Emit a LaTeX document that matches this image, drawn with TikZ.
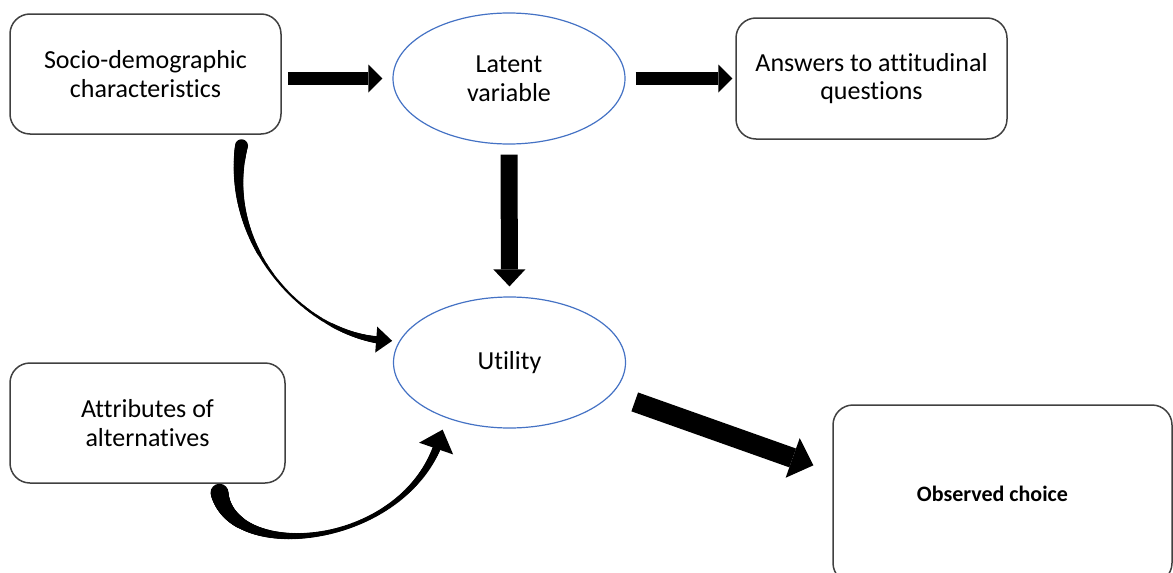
\documentclass[tikz,border=0pt]{standalone}
\usepackage{fontspec}
\setmainfont{Carlito}[Ligatures={NoCommon,NoContextual}]
\usetikzlibrary{shapes.geometric,arrows.meta}
\definecolor{ovalblue}{HTML}{4472C4}
\definecolor{boxline}{HTML}{404040}

\begin{document}
\begin{tikzpicture}[x=0.5pt,y=-0.5pt,
    every node/.style={font=\fontsize{13}{14.3}\selectfont, align=center, inner sep=0pt},
    box/.style={draw=boxline, line width=0.75pt, rounded corners=10pt, minimum height=60pt},
    oval/.style={ellipse, draw=ovalblue, line width=0.6pt, minimum width=116pt, minimum height=65.5pt},
    block/.style n args={3}{line width=#1, -{Triangle[width=#2,length=#3,line width=0pt]}},
    curved/.style n args={2}{line width=2pt, -{Triangle[width=#1,length=#2,line width=0pt]}},
    blob/.style={circle, fill, draw=none, inner sep=0pt, minimum size=#1}]
  \useasboundingbox (0,0) rectangle (1173,573);
  \node[box, minimum width=135.5pt] (soc) at (145.5,74) {Socio-demographic\\characteristics};
  \node[oval] (lat) at (509,78.5) {Latent\\variable};
  \node[box, minimum width=135.5pt, minimum height=60.5pt] (ans) at (871.5,78.5) {Answers to attitudinal\\questions};
  \node[oval] (util) at (509.5,362.5) {Utility};
  \node[box, minimum width=137.5pt] (attr) at (147.5,423) {Attributes of\\alternatives};
  \node[box, minimum width=169.5pt, minimum height=89pt, font=\fontsize{11}{13}\selectfont\bfseries] (obs) at (1002.5,494) {Observed choice\hspace*{10pt}};
  \coordinate (sbeg) at ([xshift=48pt,yshift=-5.5pt]soc.south);
  \coordinate (send) at ([xshift=-3pt,yshift=1pt]util.170);
  \coordinate (abeg) at ([xshift=36pt,yshift=-4.5pt]attr.south);
  \coordinate (aend) at ([yshift=-6.5pt]util.219);
  \begin{scope}[black]
    \draw[block={6.5pt}{14pt}{7pt}, shorten <=3pt, shorten >=5pt] (soc.east |- lat.west) -- (lat.west);
    \draw[block={6.5pt}{14pt}{7pt}, shorten <=5pt, shorten >=1.5pt] (lat.east) -- (ans.west);
    \draw[block={8.5pt}{16pt}{8.5pt}, shorten <=5pt, shorten >=5pt] (lat.south) -- (util.north);
    \draw[block={10pt}{21pt}{11pt}, shorten <=12pt, shorten >=10pt] (util.-17) -- ([yshift=11pt]obs.west);
    \path (sbeg) .. controls +(-20,105) and +(-80,0) .. (send) coordinate[pos=0.93] (sneck)
      foreach \t [evaluate=\t as \w using {6.5-18*\t+16*\t*\t}] in {0,0.005,...,0.95} {node[blob=\w pt, pos=\t] {}};
    \draw[curved={13pt}{8pt}] (sneck) -- (send);
    \path (abeg) .. controls +(13,73) and +(-28,118) .. (aend) coordinate[pos=0.93] (aneck)
      foreach \t [evaluate=\t as \w using {9-22*\t+18*\t*\t}] in {0,0.005,...,0.95} {node[blob=\w pt, pos=\t] {}};
    \draw[curved={18pt}{10pt}] (aneck) -- (aend);
  \end{scope}
\end{tikzpicture}
\end{document}
